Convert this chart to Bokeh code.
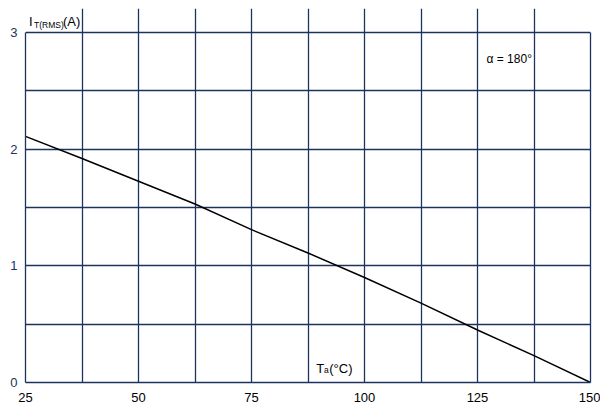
from bokeh.plotting import figure
from bokeh.models import Range1d, FixedTicker, Label, LinearAxis
from bokeh.embed import file_html
from bokeh.resources import INLINE

# Data
ta = [25, 37.5, 50, 62.5, 75, 87.5, 100, 112.5, 125, 137.5, 150]
it_rms = [2.11, 1.92, 1.725, 1.53, 1.31, 1.11, 0.90, 0.68, 0.45, 0.23, 0.0]
x_tick_values = [25, 50, 75, 100, 125, 150]
y_tick_values = [0, 1, 2, 3]
x_grid_values = [25, 37.5, 50, 62.5, 75, 87.5, 100, 112.5, 125, 137.5, 150]
y_grid_values = [0, 0.5, 1, 1.5, 2, 2.5, 3]

NAVY = "#1c3360"
FONT = "Liberation Sans"

p = figure(width=600, height=410, output_backend="svg", toolbar_location=None,
           x_range=Range1d(25, 150), y_range=Range1d(0, 3.2057),
           min_border_left=25, min_border_right=10, min_border_top=8,
           min_border_bottom=28)
p.background_fill_color = "white"
p.border_fill_color = "white"
p.outline_line_color = None

p.xaxis.ticker = FixedTicker(ticks=x_tick_values)
p.yaxis.ticker = FixedTicker(ticks=y_tick_values)
for ax in (p.xaxis[0], p.yaxis[0]):
    ax.major_tick_line_color = None
    ax.minor_tick_line_color = None
    ax.major_tick_out = 0
    ax.major_tick_in = 0
    ax.minor_tick_out = 0
    ax.minor_tick_in = 0
    ax.axis_line_color = NAVY
    ax.axis_line_width = 1.3
    ax.major_label_text_font = FONT
    ax.major_label_text_font_size = "13px"
p.yaxis.bounds = (0, 3)
p.xaxis.major_label_text_color = "black"
p.yaxis.major_label_text_color = NAVY
p.xaxis.major_label_standoff = 10
p.yaxis.major_label_standoff = 8

right_axis = LinearAxis(ticker=FixedTicker(ticks=[]), bounds=(0, 3),
                        axis_line_color=NAVY, axis_line_width=1.3,
                        major_tick_line_color=None, minor_tick_line_color=None,
                        major_tick_out=0, minor_tick_out=0,
                        major_label_text_font_size="0px")
p.add_layout(right_axis, "right")

p.xgrid.ticker = FixedTicker(ticks=x_grid_values)
p.ygrid.ticker = FixedTicker(ticks=y_grid_values)
p.xgrid.bounds = (0, 3)
for g in (p.xgrid[0], p.ygrid[0]):
    g.grid_line_color = NAVY
    g.grid_line_width = 1.3
    g.grid_line_alpha = 1.0

p.line(ta, it_rms, line_color="black", line_width=1.5)

def lab(x, y, text, size):
    p.add_layout(Label(x=x, y=y, text=text, text_font=FONT,
                       text_font_size=size, text_color="black",
                       text_baseline="alphabetic", text_align="left"))

# y-axis title I_T(RMS)(A)
lab(25.80, 3.090, "I", "13px")
lab(26.90, 3.064, "T(RMS)", "8.5px")
lab(33.30, 3.090, "(A)", "13px")
# x-axis title T_a(°C)
lab(89.30, 0.1226, "T", "13px")
lab(91.05, 0.105, "a", "8.5px")
lab(92.20, 0.1226, "(°C)", "13px")
# condition
lab(126.99, 2.769, "α  = 180°", "12px")

open("out.html", "w").write(file_html(p, INLINE))
